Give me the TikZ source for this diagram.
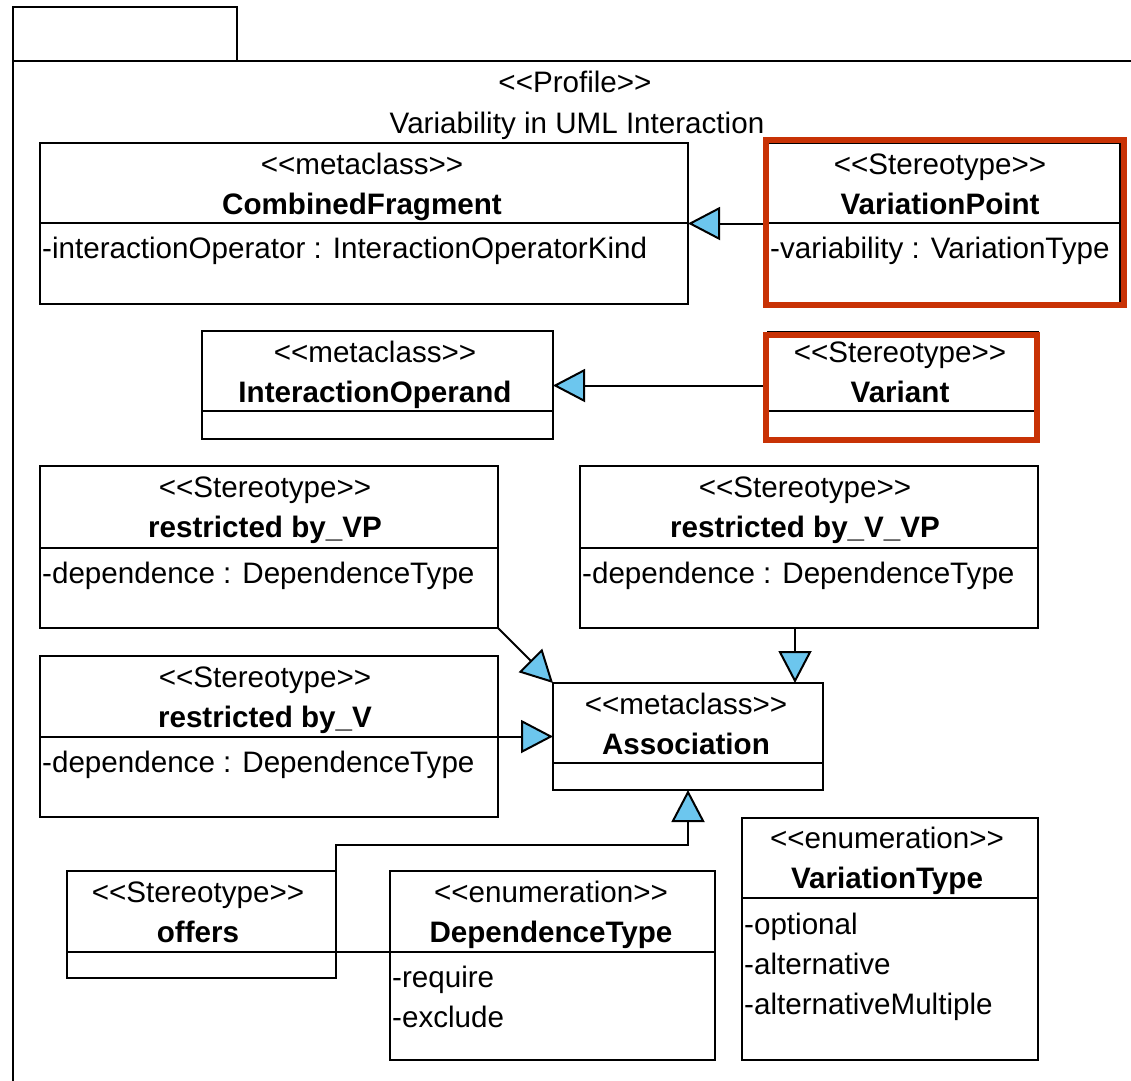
\documentclass[tikz,border=0pt]{standalone}
\usepackage{fontspec}
\newfontfamily\umlfont{Liberation Sans}
\usetikzlibrary{arrows.meta}
\definecolor{umlblue}{RGB}{108,198,238}
\definecolor{umlred}{RGB}{200,50,5}
\tikzset{
  umlbox/.style={draw, line width=2pt, fill=white, rectangle, inner sep=0pt, outer sep=0pt, anchor=north west},
  hilite/.style={draw=umlred, line width=6pt, rectangle, inner sep=0pt, outer sep=0pt, anchor=north west},
  txt/.style={anchor=base, inner sep=0pt, font=\umlfont\fontsize{29.6}{34}\selectfont},
  nametxt/.style={txt, font=\umlfont\bfseries\fontsize{29.6}{34}\selectfont},
  attr/.style={txt, anchor=base west},
  rule/.style={line width=2pt},
  gen/.style={line width=2pt, -{Triangle[length=32pt, width=33pt, fill=umlblue]}},
}
\begin{document}
\begin{tikzpicture}[x=1pt, y=-1pt]
\useasboundingbox (0,0) rectangle (1131,1080);

% package frame with tab
\draw[rule] (13,1090) -- (13,7) -- (237,7) -- (237,61);
\draw[rule] (13,61) -- (1140,61);
\node[txt] (stprof) at (575,92) {<<Profile>>};
\node[txt] (profname) at (577,133) {Variability in UML Interaction};

% CombinedFragment
\node[umlbox, minimum width=648pt, minimum height=161pt] (cf) at (40,143) {};
\draw[rule] (cf.west |- 0,223) -- (cf.east |- 0,223);
\node[txt] (cfst) at (362,174) {<<metaclass>>};
\node[nametxt] (cfnm) at (362,214) {CombinedFragment};
\node[attr] (cfat) at (42,258) {-interactionOperator : InteractionOperatorKind};

% VariationPoint
\node[umlbox, minimum width=352pt, minimum height=161pt] (vp) at (768,143) {};
\draw[rule] (vp.west |- 0,223) -- (vp.east |- 0,223);
\node[txt] (vpst) at (940,174) {<<Stereotype>>};
\node[nametxt] (vpnm) at (940,214) {VariationPoint};
\node[attr] (vpat) at (770,258) {-variability : VariationType};

% InteractionOperand
\node[umlbox, minimum width=351pt, minimum height=108pt] (io) at (202,331) {};
\draw[rule] (io.west |- 0,411) -- (io.east |- 0,411);
\node[txt] (iost) at (375,362) {<<metaclass>>};
\node[nametxt] (ionm) at (375,402) {InteractionOperand};

% Variant
\node[umlbox, minimum width=270pt, minimum height=107pt] (var) at (768,332) {};
\draw[rule] (var.west |- 0,411) -- (var.east |- 0,411);
\node[txt] (varst) at (900,362) {<<Stereotype>>};
\node[nametxt] (varnm) at (900,402) {Variant};

% restricted by_VP
\node[umlbox, minimum width=458pt, minimum height=162pt] (rvp) at (40,466) {};
\draw[rule] (rvp.west |- 0,548) -- (rvp.east |- 0,548);
\node[txt] (rvpst) at (265,497) {<<Stereotype>>};
\node[nametxt] (rvpnm) at (265,537) {restricted by\_VP};
\node[attr] (rvpat) at (42,583) {-dependence : DependenceType};

% restricted by_V_VP
\node[umlbox, minimum width=458pt, minimum height=162pt] (rvvp) at (580,466) {};
\draw[rule] (rvvp.west |- 0,548) -- (rvvp.east |- 0,548);
\node[txt] (rvvpst) at (805,497) {<<Stereotype>>};
\node[nametxt] (rvvpnm) at (805,537) {restricted by\_V\_VP};
\node[attr] (rvvpat) at (582,583) {-dependence : DependenceType};

% restricted by_V
\node[umlbox, minimum width=458pt, minimum height=161pt] (rv) at (40,656) {};
\draw[rule] (rv.west |- 0,737) -- (rv.east |- 0,737);
\node[txt] (rvst) at (265,687) {<<Stereotype>>};
\node[nametxt] (rvnm) at (265,727) {restricted by\_V};
\node[attr] (rvat) at (42,772) {-dependence : DependenceType};

% Association
\node[umlbox, minimum width=270pt, minimum height=107pt] (assoc) at (553,683) {};
\draw[rule] (assoc.west |- 0,763) -- (assoc.east |- 0,763);
\node[txt] (assocst) at (686,714) {<<metaclass>>};
\node[nametxt] (assocnm) at (686,754) {Association};

% offers
\node[umlbox, minimum width=269pt, minimum height=107pt] (offers) at (67,871) {};
\draw[rule] (offers.west |- 0,952) -- (offers.east |- 0,952);
\node[txt] (offst) at (198,902) {<<Stereotype>>};
\node[nametxt] (offnm) at (198,942) {offers};

% DependenceType
\node[umlbox, minimum width=325pt, minimum height=189pt] (dt) at (390,871) {};
\draw[rule] (dt.west |- 0,952) -- (dt.east |- 0,952);
\node[txt] (dtst) at (551,902) {<<enumeration>>};
\node[nametxt] (dtnm) at (551,942) {DependenceType};
\node[attr] (dta1) at (392,987) {-require};
\node[attr] (dta2) at (392,1027) {-exclude};

% VariationType
\node[umlbox, minimum width=296pt, minimum height=242pt] (vt) at (742,818) {};
\draw[rule] (vt.west |- 0,898) -- (vt.east |- 0,898);
\node[txt] (vtst) at (887,848) {<<enumeration>>};
\node[nametxt] (vtnm) at (887,888) {VariationType};
\node[attr] (vta1) at (744,934) {-optional};
\node[attr] (vta2) at (744,974) {-alternative};
\node[attr] (vta3) at (744,1014) {-alternativeMultiple};

% generalizations
\draw[gen] (vp.west |- cf.east) -- (cf.east);
\draw[gen] (var.west) -- (io.east |- var.west);
\draw[gen] (rvp.south east) -- (assoc.north west);
\draw[gen] ([xshift=-14pt]rvvp.south) -- ([xshift=-14pt]rvvp.south |- assoc.north);
\draw[gen] (rv.east) -- (assoc.west |- rv.east);
\draw[gen] (offers.north east) -- ++(0,-26) -| (assoc.south);

% plain association between offers and DependenceType
\draw[rule] (offers.east |- 0,952) -- (dt.west |- 0,952);

% highlighted stereotypes
\node[hilite, minimum width=358pt, minimum height=165pt] (vphl) at (766,140) {};
\node[hilite, minimum width=271pt, minimum height=105pt] (varhl) at (766,335) {};
\end{tikzpicture}
\end{document}
